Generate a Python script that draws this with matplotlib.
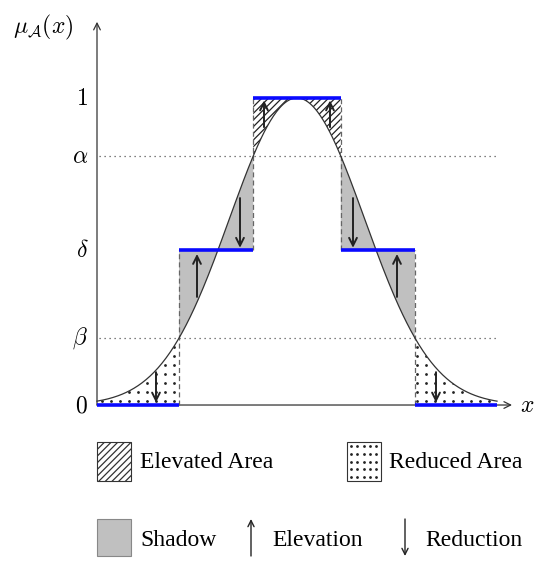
import numpy as np
import matplotlib
matplotlib.use("Agg")
import matplotlib.pyplot as plt
from matplotlib.patches import Rectangle, FancyArrowPatch

# Gaussian membership function mu_A(x)
center = 5.0
spread = 1.69
x_min, x_max = 0.0, 10.0

# threshold levels on the membership axis
alpha = 0.811
delta = 0.505
beta = 0.218
level_values = [0.0, beta, delta, alpha, 1.0]
level_labels = ["$0$", r"$\beta$", r"$\delta$", r"$\alpha$", "$1$"]

# arrows: (x, y_from, y_to)
elevation_arrows = [(4.175, 0.905, 0.992), (5.825, 0.905, 0.992),
                    (2.5, 0.352, 0.492), (7.5, 0.352, 0.492)]
reduction_arrows = [(3.575, 0.674, 0.512), (6.4, 0.674, 0.512),
                    (1.475, 0.107, 0.008), (8.475, 0.107, 0.008)]

legend_labels = ["Elevated Area", "Reduced Area", "Shadow", "Elevation", "Reduction"]

plt.rcParams["mathtext.fontset"] = "cm"
plt.rcParams["hatch.linewidth"] = 0.9

W, H = 535, 561
fig = plt.figure(figsize=(W / 100, H / 100), dpi=100)
ax = fig.add_axes([0, 0, 1, 1])
ax.set_xlim(-2.425, 10.95)
ax.set_ylim(-0.508, 1.319)
ax.axis("off")


def mu(x):
    return np.exp(-(x - center) ** 2 / (2 * spread ** 2))


def cut(level):
    d = spread * np.sqrt(-2 * np.log(level))
    return center - d, center + d


bl, br = cut(beta)
al, ar = cut(alpha)
gray = "#c0c0c0"
ink = "#222222"

# elevated area (hatched) between the curve and 1
xs = np.linspace(al, ar, 200)
ax.fill_between(xs, mu(xs), 1.0, facecolor="none", edgecolor=ink,
                hatch="/////", linewidth=0)

# shadow regions between the curve and delta
for a, b in [(bl, al), (ar, br)]:
    xs = np.linspace(a, b, 200)
    ax.fill_between(xs, mu(xs), delta, facecolor=gray, edgecolor="none", linewidth=0)

# reduced area below the curve, textured with a square dot grid
gx, gy = np.meshgrid(np.arange(-0.11, x_max + 0.3, 0.225),
                     np.arange(0.0146, 0.4, 0.0293))
for a, b in [(x_min, bl), (br, x_max)]:
    xs = np.linspace(a, b, 200)
    region = ax.fill_between(xs, 0, mu(xs), facecolor="none", linewidth=0)
    dots = ax.scatter(gx.ravel(), gy.ravel(), s=4.0, color=ink, linewidths=0)
    dots.set_clip_path(region.get_paths()[0], ax.transData)

# dotted threshold guides
for lv in [alpha, beta]:
    ax.plot([0.05, x_max], [lv, lv], color="#555555", lw=0.9,
            linestyle=(0, (1, 3)))

# dashed verticals at the cut points
dash = dict(color="#666666", lw=0.9, linestyle=(0, (4, 2.5)))
ax.plot([bl, bl], [0, delta], **dash)
ax.plot([br, br], [0, delta], **dash)
ax.plot([al, al], [delta, 1], **dash)
ax.plot([ar, ar], [delta, 1], **dash)

# membership curve
xs = np.linspace(x_min, x_max, 400)
ax.plot(xs, mu(xs), color="#333333", lw=0.9)

# step approximation (blue)
blue = "#0a0aff"
for (a, b, lv) in [(x_min, bl, 0), (bl, al, delta), (al, ar, 1.0),
                   (ar, br, delta), (br, x_max, 0)]:
    ax.plot([a, b], [lv, lv], color=blue, lw=2.6, solid_capstyle="butt", zorder=5)

# axes with arrow heads
axis_kw = dict(arrowstyle="->", mutation_scale=12, lw=0.9, color="#333333",
               shrinkA=0, shrinkB=0)
ax.add_patch(FancyArrowPatch((0, 0), (0, 1.248), **axis_kw))
ax.add_patch(FancyArrowPatch((0, 0), (10.375, 0), **axis_kw))
ax.text(10.75, 0, "$x$", fontsize=17, ha="center", va="center")
ax.text(-1.35, 1.23, r"$\mu_{\mathcal{A}}(x)$", fontsize=17, ha="center", va="center")

for lv, lab in zip(level_values, level_labels):
    ax.text(-0.22, lv, lab, fontsize=17, ha="right", va="center")

# elevation / reduction arrows
arr_kw = dict(arrowstyle="->", mutation_scale=14, lw=1.4, color=ink,
              shrinkA=0, shrinkB=0, zorder=6)
for x, y0, y1 in elevation_arrows + reduction_arrows:
    ax.add_patch(FancyArrowPatch((x, y0), (x, y1), **arr_kw))


# legend, laid out in pixel units
def fx(px):
    return px / W


def fy(py):
    return 1 - py / H


def box(x0, y0, x1, y1, **kw):
    fig.add_artist(Rectangle((fx(x0), fy(y1)), fx(x1) - fx(x0), fy(y0) - fy(y1),
                             transform=fig.transFigure, **kw))


box(97, 442, 131, 481, facecolor="white", edgecolor="#333333", lw=0.8,
    hatch="/////")
box(347, 442, 381, 481, facecolor="white", edgecolor="#333333", lw=0.8)
lx, ly = np.meshgrid(np.linspace(351, 376, 5), np.linspace(446, 477, 5))
fig.add_artist(plt.Line2D(fx(lx.ravel()), fy(ly.ravel()), linestyle="none",
                          marker="o", markersize=2.0, markeredgewidth=0,
                          color=ink, transform=fig.transFigure))
box(97, 519, 131, 556, facecolor=gray, edgecolor="#888888", lw=0.8)

leg_font = dict(family="Liberation Serif", fontsize=17, va="center", ha="left")
fig.text(fx(140), fy(462), legend_labels[0], **leg_font)
fig.text(fx(389), fy(462), legend_labels[1], **leg_font)
fig.text(fx(140), fy(540), legend_labels[2], **leg_font)
fig.text(fx(272), fy(540), legend_labels[3], **leg_font)
fig.text(fx(425), fy(540), legend_labels[4], **leg_font)

leg_arrow = dict(arrowstyle="->", mutation_scale=11, lw=1.0, color=ink,
                 shrinkA=0, shrinkB=0, transform=fig.transFigure)
fig.add_artist(FancyArrowPatch((fx(251), fy(556)), (fx(251), fy(519)), **leg_arrow))
fig.add_artist(FancyArrowPatch((fx(405), fy(519)), (fx(405), fy(556)), **leg_arrow))

fig.savefig("out.png", dpi=100)
